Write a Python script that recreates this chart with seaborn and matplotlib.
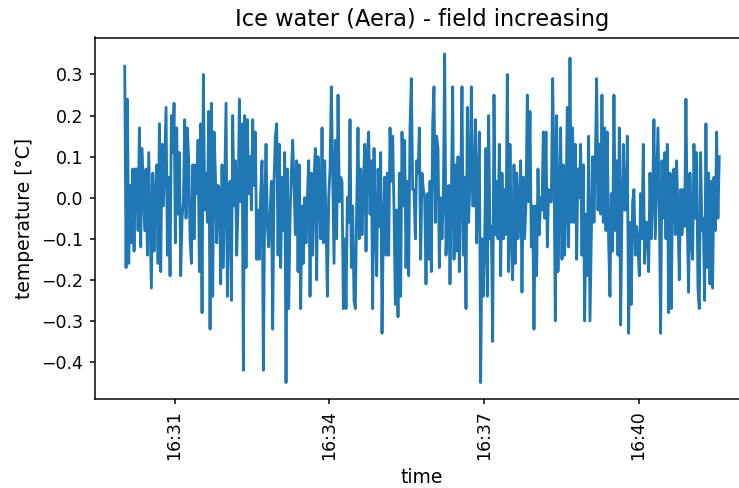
import pandas as pd
import seaborn as sns
import matplotlib.pyplot as plt
import matplotlib.dates as mdates

# temperature readings [°C] in six chunks (left to right)
temp_a = [0.32, -0.17, 0.24, -0.16, 0.03, -0.11, 0.07, -0.13, 0.07, 0.07, -0.08, 0.17, -0.12, 0.12,
          0.02, -0.08, 0.07, -0.14, 0.11, -0.05, -0.22, 0.06, -0.13, 0.01, 0.08, -0.16, 0.18, -0.18,
          0.13, -0.02, 0.10, 0.22, -0.14, 0.05, -0.19, 0.20, 0.11, 0.23, -0.11, 0.17, -0.04, 0.11,
          -0.19, -0.05, -0.01, 0.19, -0.05, 0.17, 0.09, -0.10, -0.16, 0.08, -0.10, 0.08, 0.01, 0.14,
          -0.18, 0.18, -0.28, 0.30, -0.03, 0.06, -0.06, 0.21, -0.32, 0.23, -0.24]
temp_b = [0.16, 0.06, -0.11, 0.03, 0.02, -0.21, 0.08, -0.17, 0.03, 0.23, -0.24, 0.01, 0.04, -0.25,
          0.20, -0.02, 0.09, -0.14, -0.02, 0.24, -0.01, 0.18, -0.42, 0.20, -0.17, 0.19, 0.01, 0.10,
          -0.03, 0.19, 0.03, 0.16, -0.15, -0.03, -0.15, 0.01, 0.09, -0.42, -0.02, 0.13, -0.07, -0.12,
          -0.04, 0.04, -0.32, 0.04, 0.15, 0.18, -0.14, 0.13, -0.17, 0.05, -0.08, 0.11, -0.45, 0.07,
          -0.27, -0.05, 0.06, 0.14, 0.03, -0.09, 0.09, -0.18, 0.08, -0.27, -0.02, -0.16, 0.00, -0.11,
          0.00, 0.09, -0.24]
temp_c = [0.06, -0.14, 0.05, 0.12, -0.20, 0.10, 0.03, -0.10, 0.17, -0.11, 0.09, -0.06, -0.24, 0.00,
          0.07, 0.27, 0.05, -0.16, 0.14, -0.10, 0.25, -0.01, 0.05, 0.04, -0.27, -0.10, -0.27, 0.00,
          -0.06, 0.19, -0.17, -0.02, -0.25, -0.27, -0.02, 0.17, -0.10, 0.07, -0.09, 0.03, 0.13, -0.13,
          0.11, 0.16, -0.04, 0.09, -0.27, 0.12, -0.06, -0.19, 0.07, -0.07, 0.11, -0.33, -0.07, 0.05,
          -0.14, 0.06, -0.14, 0.17, 0.04, 0.15, -0.03, -0.26, -0.03, -0.29, 0.06, -0.24, 0.16, -0.02,
          0.14, -0.17, 0.04, -0.19, 0.17]
temp_d = [0.29, 0.02, 0.02, -0.10, 0.09, 0.06, 0.17, -0.15, 0.06, 0.02, 0.00, -0.21, 0.01, -0.15,
          0.04, -0.18, 0.18, 0.27, -0.06, 0.15, 0.12, -0.17, 0.00, -0.10, 0.00, 0.35, -0.14, -0.04,
          0.03, -0.21, 0.00, 0.27, -0.15, 0.08, -0.13, 0.10, -0.18, 0.02, 0.27, -0.14, 0.05, -0.27,
          0.22, -0.06, 0.05, 0.27, -0.02, -0.02, 0.19, -0.11, 0.04, 0.16, -0.45, -0.10, -0.24, -0.10,
          0.12, -0.24, 0.20, -0.10, -0.07, -0.35, 0.25, -0.09, 0.04, -0.10, 0.13, -0.19, 0.06, -0.10,
          0.02, -0.09, 0.30]
temp_e = [-0.18, 0.13, -0.09, -0.20, 0.08, -0.16, 0.06, -0.10, -0.01, 0.09, -0.23, 0.05, -0.10, -0.01,
          0.25, -0.01, 0.21, -0.12, -0.02, -0.32, -0.02, -0.19, 0.07, -0.09, 0.00, -0.03, 0.16, -0.05,
          0.16, -0.12, 0.02, -0.01, -0.01, 0.29, 0.08, -0.30, 0.20, -0.18, -0.02, 0.17, -0.15, 0.08,
          -0.14, -0.02, 0.22, -0.12, 0.34, -0.06, 0.17, -0.06, 0.13, -0.15, 0.07, 0.00, 0.13, -0.14,
          0.08, -0.30, -0.04, -0.19, 0.15, -0.30, -0.10, 0.10, -0.06, 0.08, 0.29, -0.03, 0.13, -0.04,
          0.25, -0.06, 0.17, -0.08, 0.16, -0.11, -0.24, 0.01, -0.13, 0.25]
temp_f = [-0.08, 0.09, -0.14, 0.17, -0.31, -0.03, 0.13, -0.03, -0.03, 0.15, -0.33, -0.06, -0.26, -0.01,
          0.02, -0.14, -0.07, -0.12, -0.19, 0.01, -0.10, 0.13, -0.16, -0.06, -0.06, -0.18, 0.06, -0.10,
          0.00, 0.19, -0.10, 0.03, 0.17, -0.02, -0.33, 0.09, -0.05, 0.11, -0.10, 0.13, -0.28, 0.06,
          -0.27, 0.05, 0.07, -0.09, 0.09, -0.04, -0.20, 0.02, -0.09, 0.02, -0.07, 0.24, -0.06, -0.23,
          0.06, -0.10, -0.15, 0.13, -0.05, 0.11, -0.22, -0.27, 0.11, -0.08, -0.05, -0.25, 0.18, -0.17,
          0.06, -0.21, 0.04, -0.22, 0.05, -0.08, 0.16, -0.05, 0.10]

start_time = "2023-01-01 16:30:02"
end_time = "2023-01-01 16:41:34"

temps = temp_a + temp_b + temp_c + temp_d + temp_e + temp_f
df = pd.DataFrame({
    "time": pd.date_range(start_time, end_time, periods=len(temps)),
    "temperature": temps,
})

# original was drawn at a higher dpi, so text and lines look bigger
dpi = 135
fig = plt.figure(figsize=(739 / dpi, 488 / dpi), dpi=dpi)
# axes run a bit past the right edge, like the cropped original
ax = fig.add_axes([95 / 739, 89 / 488, 654 / 739, 361.5 / 488])

sns.lineplot(data=df, x="time", y="temperature", ax=ax, color="tab:blue", linewidth=1.5)

ax.xaxis.set_major_locator(mdates.MinuteLocator(byminute=range(1, 60, 3)))
ax.xaxis.set_major_formatter(mdates.DateFormatter("%H:%M"))
plt.setp(ax.get_xticklabels(), rotation=90)
ax.tick_params(labelsize=9.3, length=2.7)

ax.set_title("Ice water (Aera) - field increasing")
ax.set_xlabel("time")
ax.set_ylabel("temperature [°C]")

fig.savefig("out.png", dpi=dpi)
